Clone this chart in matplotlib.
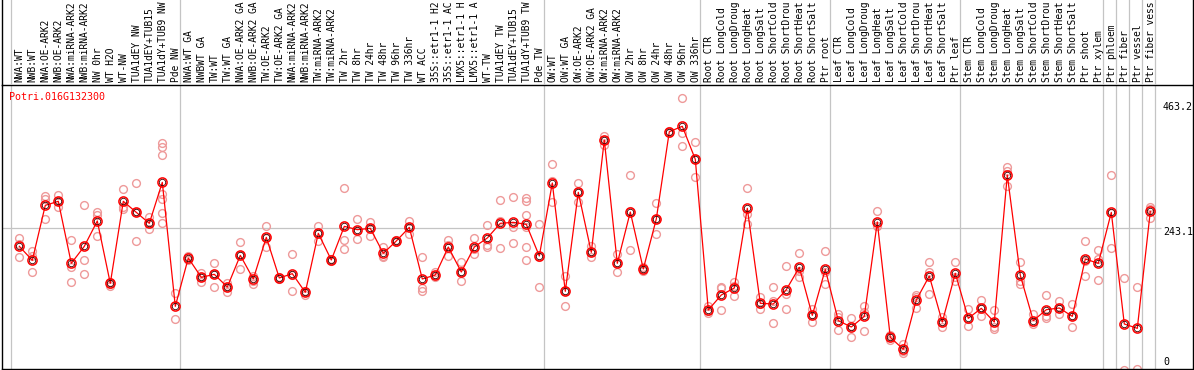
import matplotlib
matplotlib.use("Agg")
import matplotlib.pyplot as plt
import numpy as np
from matplotlib.transforms import blended_transform_factory

gene = "Potri.016G132300"

# sample labels as far as they are visible in the header band
labels = [
    "NWA:WT", "NWB:WT", "NWA:OE-ARK2", "NWB:OE-ARK2", "NWA:miRNA-ARK2", "NWB:miRNA-ARK2",
    "NW 0hr", "WT H2O", "WT-NW", "TUA1dEY NW", "TUA1dEY+TUB15", "TUA1dY+TUB9 NW", "Pde NW",
    "NWA:WT GA", "NWBWT GA", "TW:WT", "TW:WT GA", "NWA:OE-ARK2 GA", "NWB:OE-ARK2 GA",
    "TW:OE-ARK2", "TW:OE-ARK2 GA", "NWA:miRNA-ARK2", "NWB:miRNA-ARK2", "TW:miRNA-ARK2",
    "TW:miRNA-ARK2", "TW 2hr", "TW 8hr", "TW 24hr", "TW 48hr", "TW 96hr", "TW 336hr",
    "WT ACC", "35S::etr1-1 H2", "35S::etr1-1 AC", "LMX5::etr1-1 H", "LMX5::etr1-1 A",
    "WT-TW", "TUA1dEY TW", "TUA1dEY+TUB15", "TUA1dY+TUB9 TW", "Pde TW",
    "OW:WT", "OW:WT GA", "OW:OE-ARK2", "OW:OE-ARK2 GA", "OW:miRNA-ARK2", "OW:miRNA-ARK2",
    "OW 2hr", "OW 8hr", "OW 24hr", "OW 48hr", "OW 96hr", "OW 336hr",
    "Root CTR", "Root LongCold", "Root LongDroug", "Root LongHeat", "Root LongSalt",
    "Root ShortCold", "Root ShortDrou", "Root ShortHeat", "Root ShortSalt", "Ptr root",
    "Leaf CTR", "Leaf LongCold", "Leaf LongDroug", "Leaf LongHeat", "Leaf LongSalt",
    "Leaf ShortCold", "Leaf ShortDrou", "Leaf ShortHeat", "Leaf ShortSalt", "Ptr leaf",
    "Stem CTR", "Stem LongCold", "Stem LongDroug", "Stem LongHeat", "Stem LongSalt",
    "Stem ShortCold", "Stem ShortDrou", "Stem ShortHeat", "Stem ShortSalt", "Ptr shoot",
    "Ptr xylem", "Ptr phloem", "Ptr fiber", "Ptr vessel", "Ptr fiber vess",
]

group_sizes = [13, 28, 12, 10, 10, 11, 1, 1, 1, 1]

means = [
    212.6, 188.9, 282.0, 288.8, 183.8, 212.6, 255.5, 149.9, 288.8, 270.1, 251.5, 320.9, 111.0,
    192.8, 160.1, 165.2, 143.7, 197.3, 157.3, 227.8, 159.0, 166.3, 134.7, 234.6, 189.4, 246.4,
    240.8, 243.0, 200.7, 221.6, 244.7, 157.3, 164.0, 211.4, 169.1, 211.4, 226.7, 251.5, 253.2,
    249.8, 196.2,
    319.8, 136.4, 304.0, 202.4, 392.6, 183.8, 270.7, 174.2, 258.9, 406.7, 415.8, 359.9,
    104.8, 130.2, 142.0, 276.9, 116.1, 114.9, 139.2, 177.0, 95.7, 173.6,
    86.7, 76.0, 94.0, 253.8, 58.5, 38.2, 121.7, 162.3, 84.4, 166.9,
    90.7, 107.6, 84.4, 333.4, 163.5, 86.7, 105.3, 108.2, 94.0, 191.1, 183.8,
    270.1, 81.1, 73.7, 271.8,
]

reps = [
    [226.7, 216.5, 194.5], [204.1, 196.8, 168.5], [297.8, 292.7, 258.3], [299.5, 288.8, 278.6],
    [222.7, 177.0, 151.6], [282.6, 188.9, 165.2], [270.1, 265.6, 229.5], [151.6, 148.8, 146.0],
    [309.1, 278.6, 275.8], [319.2, 270.1, 221.0], [261.7, 251.5, 241.9],
    [387.0, 381.3, 366.7, 301.2, 292.7, 268.4, 251.5], [133.0, 89.5],
    [196.8, 193.9, 189.4], [167.4, 161.2, 152.7], [183.8, 165.7, 143.2], [151.1, 143.2, 135.2],
    [219.3, 198.5, 174.2], [162.9, 154.4, 148.8], [246.4, 226.1, 210.9], [161.2, 159.0, 156.7],
    [199.0, 164.0, 136.4], [137.5, 134.7, 130.2], [246.4, 235.1, 222.2], [191.1, 189.4, 187.7],
    [310.8, 223.3, 208.1], [258.9, 239.1, 224.4], [254.3, 243.6, 230.6], [210.9, 196.8, 194.5],
    [223.3, 221.6, 219.9], [256.0, 244.7, 233.5], [194.5, 142.0, 136.4], [168.5, 164.0, 160.1],
    [223.3, 214.3, 196.8], [185.5, 169.1, 153.3], [226.7, 207.5, 200.2], [248.1, 215.4, 212.0],
    [291.6, 256.0, 209.8], [295.5, 245.9, 217.7],
    [293.8, 289.9, 265.6, 245.9, 211.4, 188.9], [250.4, 195.1, 143.7],
    [352.0, 323.8, 287.1], [162.3, 136.4, 111.0], [319.8, 304.0, 288.2], [212.6, 202.4, 193.9],
    [400.0, 392.6, 384.1], [199.6, 183.8, 168.5], [332.8, 271.8, 206.4], [177.0, 174.2, 171.4],
    [285.9, 258.9, 233.5], [408.4, 406.7, 405.0], [463.2, 403.9, 381.9], [388.7, 359.9, 329.4],
    [112.1, 103.6, 99.1], [143.7, 142.0, 104.8], [151.6, 146.0, 128.5], [310.8, 267.3, 250.4],
    [126.2, 114.9, 106.5], [143.2, 120.6, 82.8], [179.8, 131.9, 105.9], [201.3, 171.4, 160.1],
    [106.5, 96.3, 85.0], [204.1, 168.5, 148.8],
    [98.0, 92.4, 71.5], [91.2, 78.2, 58.5], [112.1, 100.8, 69.8], [271.8, 247.6, 246.4],
    [63.0, 58.5, 54.0], [47.2, 35.9, 31.4], [130.7, 126.2, 108.2], [185.5, 168.5, 131.9],
    [92.4, 84.4, 76.6], [185.5, 161.2, 154.4],
    [106.5, 89.5, 77.1], [121.7, 107.6, 94.0], [104.8, 75.4, 72.6], [346.3, 339.6, 315.3],
    [186.0, 154.4, 148.8], [98.0, 83.9, 81.1], [130.2, 94.0, 90.7], [119.4, 108.2, 98.0],
    [114.9, 94.0, 75.4], [221.0, 188.3, 162.9], [206.4, 191.1, 155.6],
    [332.8, 268.4, 209.2], [158.4, 3.8], [143.2, 4.2], [279.7, 275.8, 260.0],
]

ytick_values = [463.2, 243.1, 0]
ytick_labels = ["463.2", "243.1", "0"]

# ---------------- layout ----------------
W, H = 1194, 370
fig = plt.figure(figsize=(W / 100, H / 100), dpi=100)
MONO = "DejaVu Sans Mono"
RED = "#ff0000"
PINK = "#ee9a9a"
GRID = "#c4c4c4"


def px_axes(x0, y0, x1, y1):
    return fig.add_axes([x0 / W, 1 - y1 / H, (x1 - x0) / W, (y1 - y0) / H])


PX0, PXSTEP = 19.3, 13.0  # pixel x of first category and spacing


def xi(px):
    return (px - PX0) / PXSTEP


ax = px_axes(1.5, 85, 1192.5, 369)
lab = px_axes(1.5, -2, 1192.5, 85)
for a in (ax, lab):
    a.set_xlim(xi(1.5), xi(1192.5))
    a.set_xticks([])
    a.set_yticks([])
    for s in a.spines.values():
        s.set_linewidth(1.0)
        s.set_color("black")
lab.set_ylim(0, 1)
lab.spines["top"].set_visible(False)
lab.spines["bottom"].set_visible(False)
lab.patch.set_alpha(0)
ax.set_ylim(4.87, 485.74)

# group separators
bounds = np.concatenate([[0], np.cumsum(group_sizes)]) - 1 + 0.36
for b in bounds:
    ax.axvline(b, color=GRID, lw=0.9, zorder=0)
    lab.axvline(b, color=GRID, lw=0.9, zorder=0)

# horizontal mid gridline
ax.hlines(ytick_values[1], xi(1.5), xi(1161), color=GRID, lw=0.9, zorder=0)

x = np.arange(len(means))
for i, rv in enumerate(reps):
    ax.plot([i] * len(rv), rv, ls="none", marker="o", ms=5.6, mfc="none",
            mec=PINK, mew=1.0, zorder=2, clip_on=True)

ax.plot(x, means, color=RED, lw=0.9, zorder=3)
ax.plot(x, means, ls="none", marker="o", ms=6.6, mfc="none", mec=RED, mew=1.1, zorder=4)
ax.plot(x, means, ls="none", marker="o", ms=4.6, mfc="none", mec="#400000", mew=0.6, zorder=5)

# sample labels (rotated)
tr = blended_transform_factory(lab.transData, lab.transAxes)
for i, t in enumerate(labels):
    lab.text(i + 0.03, 2.5 / 87, t, rotation=90, ha="center", va="bottom", transform=tr,
             family=MONO, fontsize=6.9, color="black")

# gene name
fig.text(9.5 / W, 1 - 97.5 / H, gene, color=RED, family=MONO, fontsize=7.2,
         ha="left", va="center")

# y labels
for lbl, ypx in zip(ytick_labels, [107.3, 231.7, 361.7]):
    fig.text(1163 / W, 1 - ypx / H, lbl, color="black", family=MONO, fontsize=7.2,
             ha="left", va="center")

fig.savefig("out.png", dpi=100)
